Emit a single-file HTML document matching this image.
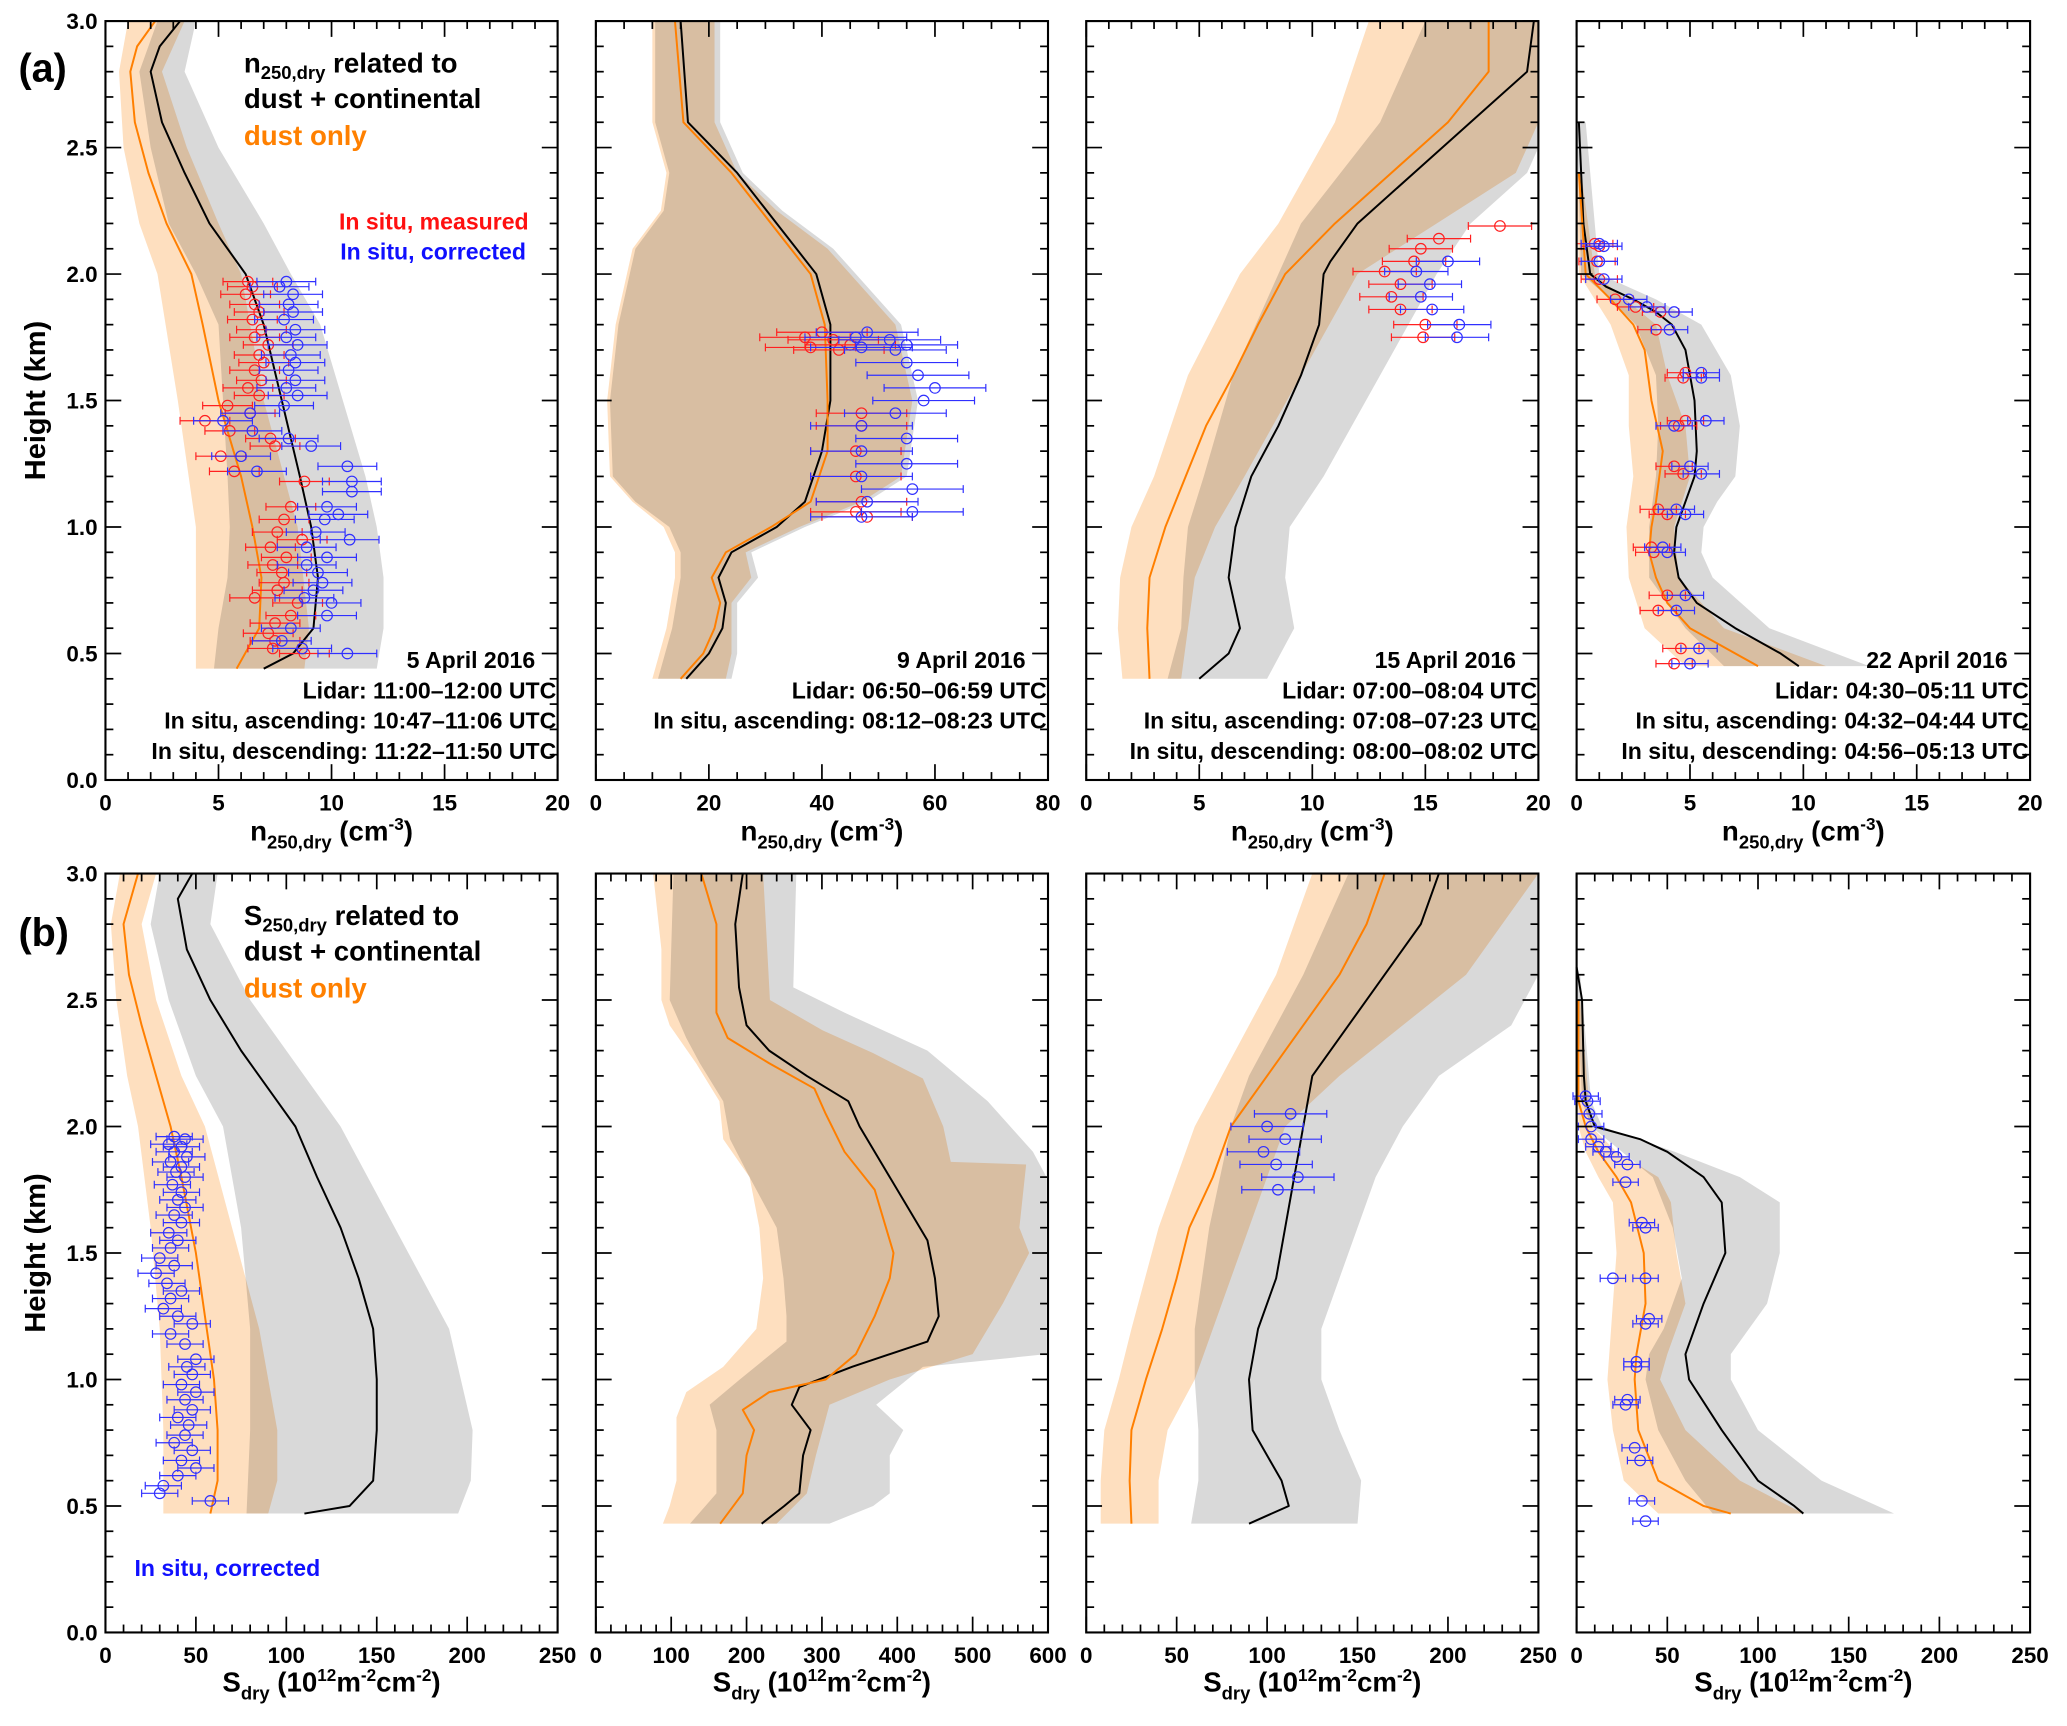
<!DOCTYPE html>
<html><head><meta charset="utf-8"><style>
html,body{margin:0;padding:0;background:#fff;}
svg{display:block;font-family:"Liberation Sans",Arial,sans-serif;font-weight:bold;}
</style></head><body>
<svg id="fig" width="2067" height="1726" viewBox="0 0 1568 1310" preserveAspectRatio="none" xmlns="http://www.w3.org/2000/svg"></svg>
<script>
// ---------- DATA (heights in km, values in axis units) ----------
// Panel a1: 5 April, n250,dry (0-20)
const a1_black=[[3.0,3.3],[2.9,2.4],[2.8,2.0],[2.6,2.5],[2.4,3.5],[2.2,4.6],[2.0,6.2],[1.8,7.0],[1.5,7.8],[1.2,8.6],[1.0,9.1],[0.8,9.4],[0.6,9.2],[0.5,8.3],[0.44,7.0]];
const a1_grayLo=[[3.0,2.3],[2.8,1.5],[2.5,2.0],[2.2,2.8],[2.0,4.0],[1.8,5.0],[1.5,5.2],[1.2,5.4],[1.0,5.5],[0.8,5.4],[0.6,5.0],[0.44,4.8]];
const a1_grayHi=[[3.0,4.0],[2.8,3.5],[2.5,5.0],[2.2,7.0],[2.0,8.2],[1.8,9.5],[1.5,10.5],[1.2,11.5],[1.0,12.0],[0.8,12.3],[0.6,12.3],[0.44,12.0]];
const a1_orange=[[3.0,2.2],[2.9,1.4],[2.8,1.1],[2.6,1.3],[2.4,1.9],[2.2,2.7],[2.0,3.8],[1.8,4.3],[1.5,5.0],[1.2,6.0],[1.0,6.5],[0.8,6.9],[0.6,6.8],[0.44,5.8]];
const a1_orLo=[[3.0,1.0],[2.8,0.6],[2.5,0.8],[2.2,1.5],[2.0,2.3],[1.5,3.2],[1.0,4.0],[0.6,4.0],[0.44,4.0]];
const a1_orHi=[[3.0,3.5],[2.8,2.5],[2.5,3.6],[2.2,5.0],[2.0,6.0],[1.5,7.0],[1.0,8.5],[0.6,9.0],[0.44,8.8]];
const a1_red=[[1.97,6.3],[1.95,6.5],[1.92,6.2],[1.88,6.6],[1.85,6.8],[1.82,6.5],[1.78,6.9],[1.75,6.6],[1.72,7.2],[1.68,6.8],[1.65,7.0],[1.62,6.6],[1.58,6.9],[1.55,6.3],[1.52,6.8],[1.48,5.4],[1.45,6.4],[1.42,4.4],[1.38,5.5],[1.35,7.3],[1.32,7.5],[1.28,5.1],[1.22,5.7],[1.18,8.8],[1.08,8.2],[1.03,7.9],[0.98,7.6],[0.95,8.7],[0.92,7.3],[0.88,8.0],[0.85,7.4],[0.82,7.8],[0.78,7.9],[0.75,7.6],[0.72,6.6],[0.70,8.5],[0.65,8.2],[0.62,7.5],[0.58,7.2],[0.55,7.5],[0.52,7.4],[0.50,8.8]];
const a1_blue=[[1.97,8.0],[1.95,7.7],[1.92,8.3],[1.88,8.1],[1.85,8.3],[1.82,7.9],[1.78,8.4],[1.75,8.0],[1.72,8.5],[1.68,8.2],[1.65,8.4],[1.62,8.1],[1.58,8.4],[1.55,8.0],[1.52,8.5],[1.48,7.9],[1.45,6.4],[1.42,5.2],[1.38,6.5],[1.35,8.1],[1.32,9.1],[1.28,6.0],[1.22,6.7],[1.24,10.7],[1.18,10.9],[1.14,10.9],[1.08,9.8],[1.05,10.3],[1.03,9.7],[0.98,9.3],[0.95,10.8],[0.92,8.9],[0.88,9.8],[0.85,8.9],[0.82,9.4],[0.78,9.6],[0.75,9.2],[0.72,8.8],[0.70,10.0],[0.65,9.8],[0.60,8.2],[0.55,7.8],[0.52,8.7],[0.50,10.7]];
// Panel a2: 9 April (0-80)
const a2_black=[[3.0,15],[2.6,16.3],[2.4,25],[2.2,32],[2.0,39],[1.8,41.5],[1.5,41.5],[1.3,40],[1.1,37],[1.0,32],[0.9,24],[0.8,21.7],[0.7,23],[0.6,22.4],[0.5,20],[0.4,16]];
const a2_grayLo=[[3.0,10.5],[2.6,10.5],[2.4,13],[2.25,12],[2.1,7],[2.0,6],[1.8,4],[1.5,2.5],[1.2,3],[1.1,7],[1.0,13],[0.9,15],[0.8,15],[0.6,13.5],[0.4,11]];
const a2_grayHi=[[3.0,22],[2.6,22],[2.4,26],[2.25,33],[2.1,42],[2.0,46],[1.8,54],[1.5,57],[1.2,55],[1.1,48],[1.0,37],[0.9,27.5],[0.8,28.7],[0.7,25],[0.5,25],[0.4,24]];
const a2_orange=[[3.0,14],[2.6,15.5],[2.4,24],[2.2,31],[2.0,38],[1.8,40.5],[1.5,41],[1.3,41],[1.1,38],[1.0,31],[0.9,23],[0.8,20.5],[0.7,22],[0.6,21],[0.5,19],[0.4,15]];
const a2_orLo=[[3.0,10],[2.6,10],[2.4,12.5],[2.25,11.5],[2.1,6.5],[2.0,5.5],[1.8,3.5],[1.5,2],[1.2,2.5],[1.1,6.5],[1.0,12],[0.9,14],[0.8,14],[0.6,12.5],[0.4,10]];
const a2_orHi=[[3.0,21],[2.6,21],[2.4,25],[2.25,32],[2.1,41],[2.0,45],[1.8,53],[1.5,56],[1.2,54],[1.1,47],[1.0,36],[0.9,26.5],[0.8,27.5],[0.7,24],[0.5,24],[0.4,23]];
const a2_red=[[1.77,40],[1.75,37],[1.74,42],[1.72,45],[1.71,38],[1.70,43],[1.45,47],[1.40,47],[1.30,46],[1.20,46],[1.10,47],[1.06,46],[1.04,48]];
const a2_blue=[[1.77,48],[1.75,46],[1.74,52],[1.72,55],[1.71,47],[1.70,53],[1.65,55],[1.60,57],[1.55,60],[1.50,58],[1.45,53],[1.40,47],[1.35,55],[1.30,47],[1.25,55],[1.20,47],[1.15,56],[1.10,48],[1.06,56],[1.04,47]];
// Panel a3: 15 April (0-20)
const a3_black=[[3.0,19.8],[2.8,19.5],[2.6,17.0],[2.4,14.5],[2.2,12.0],[2.05,10.8],[2.0,10.5],[1.8,10.3],[1.6,9.5],[1.4,8.5],[1.2,7.3],[1.0,6.6],[0.8,6.3],[0.6,6.8],[0.5,6.3],[0.4,5.0]];
const a3_grayLo=[[3.0,15],[2.6,13],[2.2,9.5],[2.0,8.5],[1.6,6.5],[1.2,5.2],[1.0,4.5],[0.8,4.3],[0.6,4.2],[0.4,3.6]];
const a3_grayHi=[[3.0,20],[2.5,20],[2.4,19.5],[2.2,17.0],[2.0,15.5],[1.6,13],[1.2,10.5],[1.0,9.0],[0.8,8.8],[0.6,9.2],[0.4,8.0]];
const a3_orange=[[3.0,17.8],[2.8,17.8],[2.6,16.0],[2.4,13.5],[2.2,11.0],[2.0,8.8],[1.8,7.6],[1.6,6.5],[1.4,5.3],[1.2,4.4],[1.0,3.5],[0.8,2.8],[0.6,2.7],[0.4,2.8]];
const a3_orLo=[[3.0,12.5],[2.6,11],[2.2,8.5],[2.0,6.8],[1.6,4.5],[1.2,3.0],[1.0,2.0],[0.8,1.5],[0.6,1.4],[0.4,1.6]];
const a3_orHi=[[3.0,20],[2.6,20],[2.4,19],[2.2,15.5],[2.0,12],[1.6,9.5],[1.2,7.0],[1.0,5.7],[0.8,4.8],[0.6,4.5],[0.4,4.2]];
const a3_red=[[2.19,18.3],[2.14,15.6],[2.10,14.8],[2.05,14.5],[2.01,13.2],[1.96,13.9],[1.91,13.5],[1.86,13.9],[1.80,15.0],[1.75,14.9]];
const a3_blue=[[2.05,16.0],[2.01,14.6],[1.96,15.2],[1.91,14.8],[1.86,15.3],[1.80,16.5],[1.75,16.4]];
// Panel a4: 22 April (0-20)
const a4_black=[[2.6,0.1],[2.2,0.3],[2.0,0.6],[1.95,1.3],[1.9,2.5],[1.85,3.5],[1.8,4.2],[1.7,4.8],[1.5,5.2],[1.3,5.3],[1.2,5.2],[1.1,4.8],[1.0,4.4],[0.9,4.3],[0.8,4.5],[0.7,5.3],[0.6,7.0],[0.5,9.0],[0.45,9.8]];
const a4_grayLo=[[2.6,0],[2.0,0.2],[1.9,1.5],[1.8,2.6],[1.6,3.5],[1.4,3.6],[1.2,3.5],[1.0,3.2],[0.8,3.2],[0.6,4.8],[0.45,6.5]];
const a4_grayHi=[[2.6,0.4],[2.0,1.0],[1.9,3.5],[1.8,5.5],[1.6,6.8],[1.4,7.2],[1.2,7.0],[1.1,6.2],[1.0,5.6],[0.9,5.5],[0.8,6.0],[0.6,8.5],[0.45,12.9]];
const a4_orange=[[2.4,0.1],[2.0,0.4],[1.9,1.5],[1.8,2.5],[1.7,3.0],[1.5,3.3],[1.3,3.8],[1.1,3.5],[1.0,3.3],[0.9,3.2],[0.8,3.5],[0.7,4.0],[0.6,5.0],[0.5,7.0],[0.45,8.0]];
const a4_orLo=[[2.4,0],[2.0,0.1],[1.8,1.5],[1.6,2.3],[1.4,2.3],[1.2,2.5],[1.0,2.2],[0.8,2.3],[0.6,3.0],[0.45,4.8]];
const a4_orHi=[[2.4,0.2],[2.0,0.8],[1.8,3.5],[1.6,4.0],[1.4,4.8],[1.2,5.0],[1.0,4.3],[0.8,4.5],[0.6,6.5],[0.45,11]];
const a4_red=[[2.12,0.8],[2.11,1.0],[2.05,0.9],[1.98,1.0],[1.90,1.7],[1.87,2.6],[1.85,3.7],[1.78,3.5],[1.61,4.8],[1.59,4.7],[1.42,4.8],[1.40,4.5],[1.24,4.3],[1.21,4.7],[1.07,3.6],[1.05,4.0],[0.92,3.3],[0.90,3.4],[0.73,4.0],[0.67,3.6],[0.52,4.6],[0.46,4.3]];
const a4_blue=[[2.12,1.0],[2.11,1.2],[2.05,1.0],[1.98,1.2],[1.90,2.3],[1.87,3.1],[1.85,4.3],[1.78,4.1],[1.61,5.5],[1.59,5.5],[1.42,5.7],[1.40,4.3],[1.24,5.0],[1.21,5.5],[1.07,4.4],[1.05,4.8],[0.92,3.8],[0.90,4.0],[0.73,4.8],[0.67,4.4],[0.52,5.4],[0.46,5.0]];
// Panel b1 (0-250)
const b1_black=[[3.0,48],[2.9,40],[2.7,45],[2.5,58],[2.3,75],[2.1,95],[2.0,105],[1.8,117],[1.6,130],[1.4,140],[1.2,148],[1.0,150],[0.8,150],[0.6,148],[0.5,135],[0.47,110]];
const b1_grayLo=[[3.0,30],[2.8,25],[2.5,35],[2.2,50],[2.0,65],[1.6,75],[1.2,80],[0.8,80],[0.47,78]];
const b1_grayHi=[[3.0,62],[2.8,58],[2.5,80],[2.2,110],[2.0,130],[1.6,160],[1.2,190],[0.8,203],[0.6,202],[0.47,195]];
const b1_orange=[[3.0,18],[2.8,10],[2.6,13],[2.4,20],[2.2,28],[2.0,36],[1.8,42],[1.5,50],[1.2,56],[1.0,60],[0.8,62],[0.6,62],[0.47,58]];
const b1_orLo=[[3.0,8],[2.8,3],[2.5,6],[2.2,12],[2.0,18],[1.6,25],[1.2,30],[0.8,32],[0.47,32]];
const b1_orHi=[[3.0,28],[2.8,20],[2.5,28],[2.2,42],[2.0,55],[1.6,70],[1.2,85],[0.8,95],[0.6,95],[0.47,90]];
const b1_blue=[[1.96,38],[1.95,44],[1.93,35],[1.92,42],[1.90,38],[1.88,45],[1.86,36],[1.84,42],[1.82,39],[1.80,44],[1.77,37],[1.74,42],[1.71,40],[1.68,44],[1.65,38],[1.62,42],[1.58,35],[1.55,40],[1.52,36],[1.48,30],[1.45,38],[1.42,28],[1.38,34],[1.35,42],[1.32,36],[1.28,32],[1.25,40],[1.22,48],[1.18,36],[1.14,44],[1.08,50],[1.05,45],[1.02,48],[0.98,42],[0.95,50],[0.92,44],[0.88,48],[0.85,40],[0.82,46],[0.78,44],[0.75,38],[0.72,48],[0.68,42],[0.65,50],[0.62,40],[0.58,32],[0.55,30],[0.52,58]];
// Panel b2 (0-600)
const b2_black=[[3.0,195],[2.8,185],[2.55,190],[2.4,200],[2.3,230],[2.2,280],[2.1,335],[2.0,350],[1.8,390],[1.7,410],[1.55,440],[1.4,450],[1.25,455],[1.15,440],[1.05,340],[0.97,270],[0.9,260],[0.8,285],[0.7,275],[0.55,270],[0.5,250],[0.43,220]];
const b2_grayLo=[[3.0,103],[2.5,98],[2.35,120],[2.25,138],[2.1,169],[1.95,178],[1.8,204],[1.6,240],[1.4,249],[1.25,253],[1.15,253],[1.0,191],[0.9,151],[0.8,160],[0.55,160],[0.43,125]];
const b2_grayHi=[[3.0,266],[2.55,262],[2.45,330],[2.3,440],[2.1,520],[1.9,580],[1.8,598],[1.1,598],[1.05,434],[0.9,372],[0.8,408],[0.7,390],[0.55,390],[0.5,368],[0.43,310]];
const b2_orange=[[3.0,140],[2.8,160],[2.6,160],[2.45,160],[2.35,175],[2.25,230],[2.15,290],[2.05,305],[1.9,330],[1.75,370],[1.6,385],[1.5,395],[1.4,390],[1.25,370],[1.1,345],[1.0,305],[0.95,230],[0.88,195],[0.8,210],[0.7,200],[0.55,195],[0.43,165]];
const b2_orLo=[[3.0,76],[2.7,87],[2.5,87],[2.4,98],[2.25,133],[2.1,164],[1.95,169],[1.8,204],[1.6,217],[1.4,222],[1.2,213],[1.05,169],[0.95,120],[0.85,107],[0.6,107],[0.5,98],[0.43,89]];
const b2_orHi=[[3.0,222],[2.5,231],[2.38,301],[2.29,368],[2.19,434],[2.0,461],[1.86,471],[1.85,571],[1.6,562],[1.5,575],[1.3,540],[1.1,500],[1.0,390],[0.9,310],[0.8,301],[0.7,292],[0.55,280],[0.43,240]];
// Panel b3 (0-250)
const b3_black=[[3.0,195],[2.8,185],[2.6,165],[2.4,145],[2.2,125],[2.0,120],[1.8,115],[1.6,110],[1.4,105],[1.2,95],[1.0,90],[0.8,92],[0.6,108],[0.5,112],[0.43,90]];
const b3_grayLo=[[3.0,145],[2.6,120],[2.2,90],[2.0,80],[1.6,68],[1.2,60],[1.0,60],[0.8,62],[0.6,62],[0.43,58]];
const b3_grayHi=[[3.0,250],[2.6,250],[2.4,235],[2.2,195],[2.0,175],[1.8,160],[1.6,150],[1.2,130],[1.0,130],[0.8,140],[0.6,152],[0.43,150]];
const b3_orange=[[3.0,165],[2.8,155],[2.6,140],[2.4,120],[2.2,100],[2.0,80],[1.8,70],[1.6,57],[1.4,50],[1.2,42],[1.0,33],[0.8,25],[0.6,24],[0.43,25]];
const b3_orLo=[[3.0,125],[2.6,105],[2.2,75],[2.0,60],[1.6,40],[1.2,25],[1.0,18],[0.8,10],[0.6,8],[0.43,8]];
const b3_orHi=[[3.0,250],[2.6,210],[2.2,140],[2.0,110],[1.6,90],[1.2,70],[1.0,60],[0.8,45],[0.6,40],[0.43,40]];
const b3_blue=[[2.05,113],[2.0,100],[1.95,110],[1.9,98],[1.85,105],[1.8,117],[1.75,106]];
// Panel b4 (0-250)
const b4_black=[[2.63,0],[2.5,3],[2.2,4],[2.1,5],[2.0,10],[1.95,35],[1.9,50],[1.85,60],[1.8,70],[1.7,80],[1.5,82],[1.3,70],[1.1,60],[1.0,62],[0.8,80],[0.6,100],[0.5,120],[0.47,125]];
const b4_grayLo=[[2.6,0],[2.1,3],[2.0,8],[1.9,25],[1.8,42],[1.6,53],[1.4,58],[1.2,48],[1.1,40],[1.0,38],[0.8,45],[0.6,60],[0.47,75]];
const b4_grayHi=[[2.6,2],[2.1,8],[2.0,14],[1.9,54],[1.8,90],[1.7,112],[1.5,112],[1.3,105],[1.1,85],[1.0,85],[0.8,100],[0.6,135],[0.47,175]];
const b4_orange=[[2.5,1],[2.1,1],[2.0,5],[1.9,12],[1.8,22],[1.7,30],[1.5,37],[1.3,38],[1.1,33],[1.0,32],[0.8,34],[0.6,45],[0.5,70],[0.47,85]];
const b4_orLo=[[2.5,0],[2.0,1],[1.9,5],[1.8,12],[1.7,20],[1.5,22],[1.3,20],[1.1,18],[1.0,17],[0.8,20],[0.6,26],[0.47,45]];
const b4_orHi=[[2.5,2],[2.0,8],[1.9,22],[1.8,45],[1.7,52],[1.5,55],[1.3,60],[1.1,50],[1.0,46],[0.8,60],[0.6,90],[0.47,125]];
const b4_blue=[[2.12,5],[2.1,6],[2.05,7],[2.0,8],[1.95,8],[1.92,12],[1.9,16],[1.88,22],[1.85,28],[1.78,27],[1.62,36],[1.6,38],[1.4,38],[1.4,20],[1.24,40],[1.22,38],[1.07,33],[1.05,33],[0.92,28],[0.9,27],[0.73,32],[0.68,35],[0.52,36],[0.44,38]];

// x-axis tick labels per panel
const ticksA=["0","5","10","15","20"];
const ticksA2=["0","20","40","60","80"];
const ticksB=["0","50","100","150","200","250"];
const ticksB2=["0","100","200","300","400","500","600"];
const yTicks=["0.0","0.5","1.0","1.5","2.0","2.5","3.0"];

// ---------- DRAWING ----------
const svg=document.getElementById('fig');
const NS='http://www.w3.org/2000/svg';
function mk(tag,attrs,parent){const e=document.createElementNS(NS,tag);for(const k in attrs)e.setAttribute(k,attrs[k]);(parent||svg).appendChild(e);return e;}

function panel(name,L,T,W,H,xmax,xticks,minorStep,ser){
  const g=mk('g',{});
  
  
  const xs=v=>L+v/xmax*W, ys=h=>T+H-h/3*H;
  function band(lo,hi,fill,blend,nm){
    const pts=lo.map(p=>xs(p[1])+','+ys(p[0])).concat(hi.slice().reverse().map(p=>xs(p[1])+','+ys(p[0])));
    const e=mk('polygon',{points:pts.join(' '),fill:fill},g);
    if(blend)e.setAttribute('style','mix-blend-mode:multiply');
    
    
  }
  function line(d,col,nm){
    const e=mk('polyline',{points:d.map(p=>xs(p[1])+','+ys(p[0])).join(' '),fill:'none',stroke:col,'stroke-width':1.5,'stroke-linejoin':'round'},g);
    
    
  }
  band(ser.gLo,ser.gHi,'#d9d9d9',false,'dust-continental-uncertainty-band');
  band(ser.oLo,ser.oHi,'#fedfbf',true,'dust-only-uncertainty-band');
  line(ser.black,'#000','dust-continental-line');
  line(ser.orange,'#ff7f00','dust-only-line');
  function pts(d,col,err,nm){
    d.forEach(p=>{
      const x=xs(p[1]),y=ys(p[0]),e1=xs(p[1]-err),e2=xs(p[1]+err);
      const gg=mk('g',{stroke:col,'stroke-width':0.9,fill:'none'},g);
      
      
      mk('line',{x1:e1,x2:e2,y1:y,y2:y},gg);
      mk('line',{x1:e1,x2:e1,y1:y-3,y2:y+3},gg);
      mk('line',{x1:e2,x2:e2,y1:y-3,y2:y+3},gg);
      mk('circle',{cx:x,cy:y,r:4},gg);
    });
  }
  if(ser.red)pts(ser.red,'#ff2020',ser.err,'in-situ-measured-point');
  if(ser.blue)pts(ser.blue,'#3030ff',ser.errB||ser.err,'in-situ-corrected-point');
  const fr=mk('rect',{x:L,y:T,width:W,height:H,fill:'none',stroke:'#000','stroke-width':1.6},g);
  
  
  for(let i=0;i<=30;i++){
    const y=ys(i/10),len=i%5===0?12:6;
    mk('line',{x1:L,x2:L+len,y1:y,y2:y,stroke:'#000','stroke-width':1.3},g);
    mk('line',{x1:L+W,x2:L+W-len,y1:y,y2:y,stroke:'#000','stroke-width':1.3},g);
  }
  const nMinor=Math.round(xmax/minorStep), majEvery=Math.round((xmax/(xticks.length-1))/minorStep);
  for(let i=0;i<=nMinor;i++){
    const x=xs(i*minorStep),len=i%majEvery===0?12:6;
    mk('line',{x1:x,x2:x,y1:T+H,y2:T+H-len,stroke:'#000','stroke-width':1.3},g);
    mk('line',{x1:x,x2:x,y1:T,y2:T+len,stroke:'#000','stroke-width':1.3},g);
  }
  xticks.forEach((t,i)=>{
    const e=mk('text',{x:xs(i*xmax/(xticks.length-1)),y:T+H+23,'font-size':17,'text-anchor':'middle'},g);
    e.textContent=t;
    
    
  });
  return {g,xs,ys};
}

const PL=[80,452,824,1196], PW=[343,343,343,344];
const TA=16,TB=663,PH=576;
panel('panel-a1-5-april',PL[0],TA,PW[0],PH,20,ticksA,1,{black:a1_black,gLo:a1_grayLo,gHi:a1_grayHi,orange:a1_orange,oLo:a1_orLo,oHi:a1_orHi,red:a1_red,blue:a1_blue,err:1.1,errB:1.3});
panel('panel-a2-9-april',PL[1],TA,PW[1],PH,80,ticksA2,5,{black:a2_black,gLo:a2_grayLo,gHi:a2_grayHi,orange:a2_orange,oLo:a2_orLo,oHi:a2_orHi,red:a2_red,blue:a2_blue,err:8,errB:9});
panel('panel-a3-15-april',PL[2],TA,PW[2],PH,20,ticksA,1,{black:a3_black,gLo:a3_grayLo,gHi:a3_grayHi,orange:a3_orange,oLo:a3_orLo,oHi:a3_orHi,red:a3_red,blue:a3_blue,err:1.4});
panel('panel-a4-22-april',PL[3],TA,PW[3],PH,20,ticksA,1,{black:a4_black,gLo:a4_grayLo,gHi:a4_grayHi,orange:a4_orange,oLo:a4_orLo,oHi:a4_orHi,red:a4_red,blue:a4_blue,err:0.8});
panel('panel-b1-5-april',PL[0],TB,PW[0],PH,250,ticksB,10,{black:b1_black,gLo:b1_grayLo,gHi:b1_grayHi,orange:b1_orange,oLo:b1_orLo,oHi:b1_orHi,blue:b1_blue,err:10});
panel('panel-b2-9-april',PL[1],TB,PW[1],PH,600,ticksB2,20,{black:b2_black,gLo:b2_grayLo,gHi:b2_grayHi,orange:b2_orange,oLo:b2_orLo,oHi:b2_orHi});
panel('panel-b3-15-april',PL[2],TB,PW[2],PH,250,ticksB,10,{black:b3_black,gLo:b3_grayLo,gHi:b3_grayHi,orange:b3_orange,oLo:b3_orLo,oHi:b3_orHi,blue:b3_blue,err:20});
panel('panel-b4-22-april',PL[3],TB,PW[3],PH,250,ticksB,10,{black:b4_black,gLo:b4_grayLo,gHi:b4_grayHi,orange:b4_orange,oLo:b4_orLo,oHi:b4_orHi,blue:b4_blue,err:7});

[TA,TB].forEach(T=>{
  yTicks.forEach((t,i)=>{
    const e=mk('text',{x:PL[0]-6,y:T+PH-i*PH/6+6,'font-size':17,'text-anchor':'end'});
    e.textContent=t;
    
    
  });
});
</script>
<script>
(function(){
const svg=document.getElementById('fig');const NS='http://www.w3.org/2000/svg';
function T(x,y,size,html,attrs,name){const e=document.createElementNS(NS,'text');e.setAttribute('x',x);e.setAttribute('y',y);e.setAttribute('font-size',size);for(const k in (attrs||{}))e.setAttribute(k,attrs[k]);e.innerHTML=html;


svg.appendChild(e);return e;}
T(14,62,30,'(a)',{},'panel-label-a');
T(14,718,30,'(b)',{},'panel-label-b');
T(185,55,21,'n<tspan font-size="14" dy="5">250,dry</tspan><tspan dy="-5"> related to</tspan>',{},'legend-title-a');
T(185,82,21,'dust + continental',{},'legend-dust-continental-a');
T(185,110,21,'dust only',{fill:'#ff8000'},'legend-dust-only-a');
T(401,174,17.5,'In situ, measured',{fill:'#ff1010','text-anchor':'end'},'legend-in-situ-measured');
T(399,197,17.5,'In situ, corrected',{fill:'#1010ff','text-anchor':'end'},'legend-in-situ-corrected');
T(185,702,21,'S<tspan font-size="14" dy="5">250,dry</tspan><tspan dy="-5"> related to</tspan>',{},'legend-title-b');
T(185,729,21,'dust + continental',{},'legend-dust-continental-b');
T(185,757,21,'dust only',{fill:'#ff8000'},'legend-dust-only-b');
T(102,1196,17.5,'In situ, corrected',{fill:'#1010ff'},'legend-in-situ-corrected-b');
const dates=[['5 April 2016','Lidar: 11:00–12:00 UTC','In situ, ascending: 10:47–11:06 UTC','In situ, descending: 11:22–11:50 UTC'],
['9 April 2016','Lidar: 06:50–06:59 UTC','In situ, ascending: 08:12–08:23 UTC',null],
['15 April 2016','Lidar: 07:00–08:04 UTC','In situ, ascending: 07:08–07:23 UTC','In situ, descending: 08:00–08:02 UTC'],
['22 April 2016','Lidar: 04:30–05:11 UTC','In situ, ascending: 04:32–04:44 UTC','In situ, descending: 04:56–05:13 UTC']];
const PL=[80,452,824,1196],PW=[343,343,343,344];
dates.forEach((d,i)=>{
  const R=PL[i]+PW[i]-1;
  T(R-16,507,17.5,d[0],{'text-anchor':'end'},'date-label');
  T(R,530,17.5,d[1],{'text-anchor':'end'},'lidar-time-label');
  T(R,553,17.5,d[2],{'text-anchor':'end'},'ascending-time-label');
  if(d[3])T(R,576,17.5,d[3],{'text-anchor':'end'},'descending-time-label');
  const cx=PL[i]+PW[i]/2;
  T(cx,638,21,'n<tspan font-size="14" dy="6">250,dry</tspan><tspan dy="-6"> (cm</tspan><tspan font-size="13" dy="-8">-3</tspan><tspan dy="8">)</tspan>',{'text-anchor':'middle'},'x-axis-title-n250');
  T(cx,1284,21,'S<tspan font-size="14" dy="6">dry</tspan><tspan dy="-6"> (10</tspan><tspan font-size="13" dy="-8">12</tspan><tspan dy="8">m</tspan><tspan font-size="13" dy="-8">-2</tspan><tspan dy="8">cm</tspan><tspan font-size="13" dy="-8">-2</tspan><tspan dy="8">)</tspan>',{'text-anchor':'middle'},'x-axis-title-sdry');
});
T(0,0,22,'Height (km)',{transform:'translate(34,304) rotate(-90)','text-anchor':'middle'},'y-axis-title-a');
T(0,0,22,'Height (km)',{transform:'translate(34,951) rotate(-90)','text-anchor':'middle'},'y-axis-title-b');
})();
</script>
</body></html>
